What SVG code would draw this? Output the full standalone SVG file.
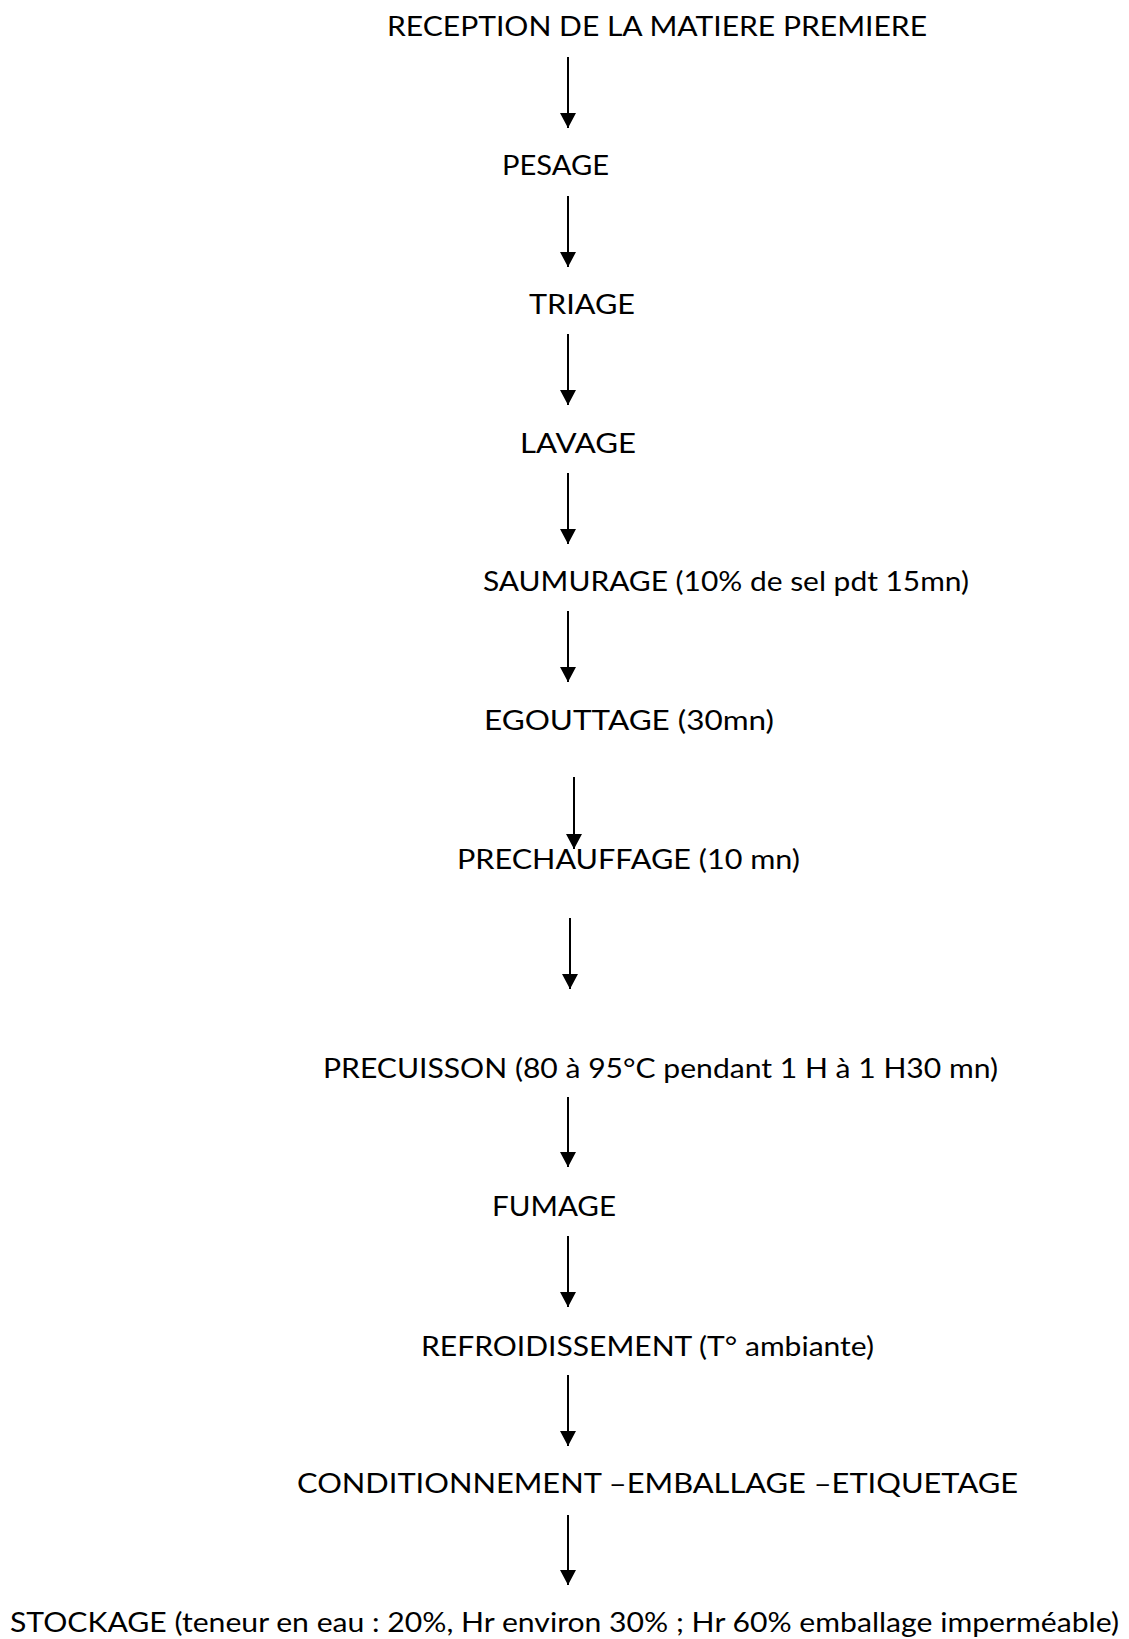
<svg xmlns="http://www.w3.org/2000/svg" width="1129" height="1639" viewBox="0 0 1129 1639">
<style>
.t{font-family:"Lato","Open Sans","Liberation Sans",sans-serif;font-size:27px;fill:#000}
.c line{stroke:#000;stroke-width:2;marker-end:url(#ah)}
</style>
<defs>
<marker id="ah" markerUnits="userSpaceOnUse" viewBox="0 0 15 16" markerWidth="15" markerHeight="16" refX="15" refY="8" orient="auto">
<path d="M0,0 L15,8 L0,16 Z" fill="#000"/>
</marker>
</defs>
<rect width="1129" height="1639" fill="#fff"/>
<g id="n1"><text class="t" x="387" y="36" textLength="540" lengthAdjust="spacingAndGlyphs">RECEPTION DE LA MATIERE PREMIERE</text></g>
<g id="n2"><text class="t" x="502" y="175" textLength="107" lengthAdjust="spacingAndGlyphs">PESAGE</text></g>
<g id="n3"><text class="t" x="529" y="314" textLength="106" lengthAdjust="spacingAndGlyphs">TRIAGE</text></g>
<g id="n4"><text class="t" x="520" y="453" textLength="116" lengthAdjust="spacingAndGlyphs">LAVAGE</text></g>
<g id="n5"><text class="t" x="483" y="591" textLength="486" lengthAdjust="spacingAndGlyphs">SAUMURAGE (10% de sel pdt 15mn)</text></g>
<g id="n6"><text class="t" x="484" y="730" textLength="290" lengthAdjust="spacingAndGlyphs">EGOUTTAGE (30mn)</text></g>
<g id="n7"><text class="t" x="457" y="869" textLength="343" lengthAdjust="spacingAndGlyphs">PRECHAUFFAGE (10 mn)</text></g>
<g id="n8"><text class="t" x="323" y="1078" textLength="675" lengthAdjust="spacingAndGlyphs">PRECUISSON (80 à 95°C pendant 1 H à 1 H30 mn)</text></g>
<g id="n9"><text class="t" x="492" y="1216" textLength="124" lengthAdjust="spacingAndGlyphs">FUMAGE</text></g>
<g id="n10"><text class="t" x="421" y="1356" textLength="453" lengthAdjust="spacingAndGlyphs">REFROIDISSEMENT (T° ambiante)</text></g>
<g id="n11"><text class="t" x="297" y="1493" textLength="721" lengthAdjust="spacingAndGlyphs">CONDITIONNEMENT –EMBALLAGE –ETIQUETAGE</text></g>
<g id="n12"><text class="t" x="10" y="1632" textLength="1109" lengthAdjust="spacingAndGlyphs">STOCKAGE (teneur en eau : 20%, Hr environ 30% ; Hr 60% emballage imperméable)</text></g>
<g id="connectors" class="c">
<line x1="568" y1="57" x2="568" y2="128"/>
<line x1="568" y1="196" x2="568" y2="267"/>
<line x1="568" y1="334" x2="568" y2="405"/>
<line x1="568" y1="473" x2="568" y2="544"/>
<line x1="568" y1="611" x2="568" y2="682"/>
<line x1="574" y1="777" x2="574" y2="849"/>
<line x1="570" y1="918" x2="570" y2="989"/>
<line x1="568" y1="1097" x2="568" y2="1167"/>
<line x1="568" y1="1236" x2="568" y2="1307"/>
<line x1="568" y1="1375" x2="568" y2="1446"/>
<line x1="568" y1="1515" x2="568" y2="1585"/>
</g>
</svg>
